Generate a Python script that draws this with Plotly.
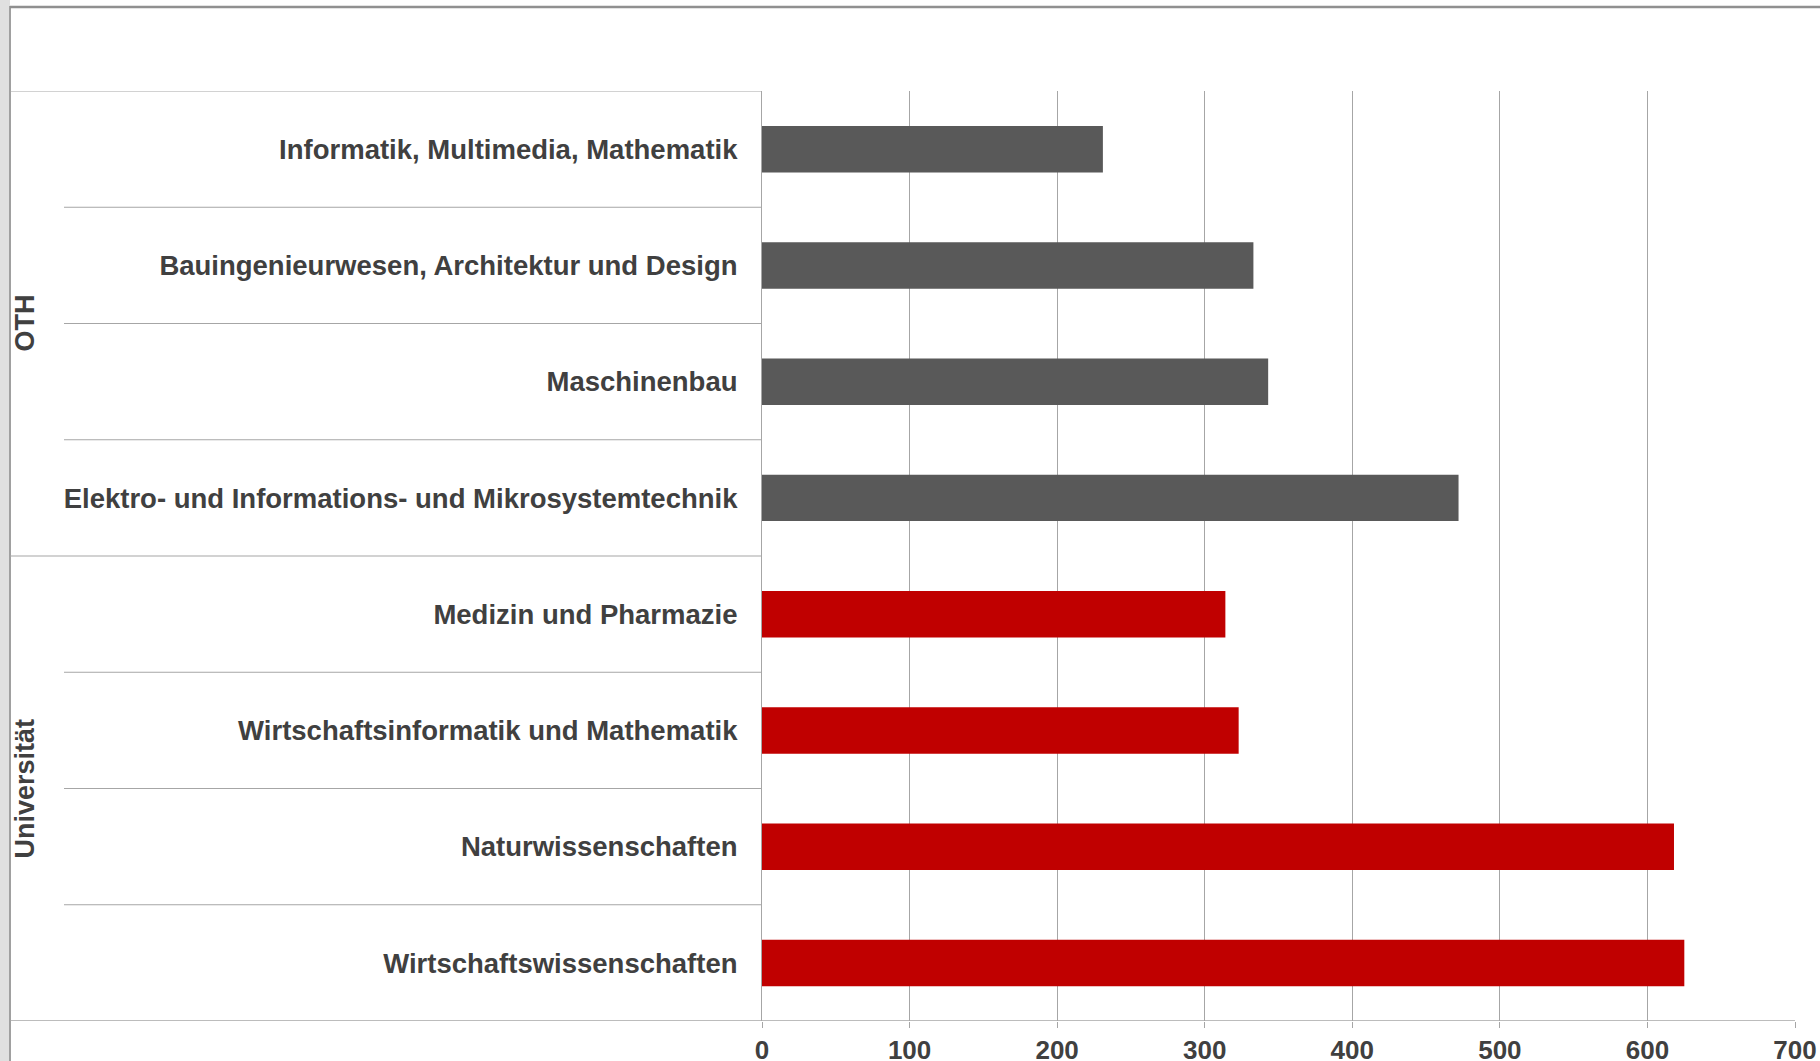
import plotly.graph_objects as go

categories = [
    "Informatik, Multimedia, Mathematik",
    "Bauingenieurwesen, Architektur und Design",
    "Maschinenbau",
    "Elektro- und Informations- und Mikrosystemtechnik",
    "Medizin und Pharmazie",
    "Wirtschaftsinformatik und Mathematik",
    "Naturwissenschaften",
    "Wirtschaftswissenschaften",
]
groups = ["OTH", "OTH", "OTH", "OTH", "Universität", "Universität", "Universität", "Universität"]
values = [231, 333, 343, 472, 314, 323, 618, 625]
group_names = ["OTH", "Universität"]
group_colors = {"OTH": "#595959", "Universität": "#C00000"}
x_ticks = [0, 100, 200, 300, 400, 500, 600, 700]

W, H = 1820, 1061
L, R, T, B = 762, 1795, 91, 1021
plot_w = R - L
plot_h = B - T

def px_x(px):
    return (px - L) / plot_w

def px_y(py):
    return (B - py) / plot_h

FONT = "Liberation Sans, Arial, sans-serif"
TXT = "#404040"
GRID = "#a6a6a6"

fig = go.Figure()
fig.add_trace(go.Bar(
    x=values,
    y=categories,
    orientation="h",
    width=0.4,
    marker=dict(color=[group_colors[g] for g in groups], line=dict(width=0)),
    showlegend=False,
    hoverinfo="x+y",
))

shapes = []
# left gray strip and frame
shapes.append(dict(type="rect", xref="paper", yref="paper",
                   x0=px_x(0), x1=px_x(10), y0=px_y(H), y1=px_y(0),
                   fillcolor="#e0e0e0", line=dict(width=0), layer="below"))
shapes.append(dict(type="line", xref="paper", yref="paper",
                   x0=px_x(10), x1=px_x(10), y0=px_y(H), y1=px_y(6),
                   line=dict(color="#a0a0a0", width=2)))
shapes.append(dict(type="line", xref="paper", yref="paper",
                   x0=px_x(10), x1=px_x(W), y0=px_y(7), y1=px_y(7),
                   line=dict(color="#909090", width=2.5)))

# category dividers within groups, group boundaries across the label area
n = len(categories)
for i in range(n - 1):
    start = 64 if groups[i] == groups[i + 1] else 10
    shapes.append(dict(type="line", xref="paper", yref="y",
                       x0=px_x(start), x1=0, y0=i + 0.5, y1=i + 0.5,
                       line=dict(color=GRID, width=1.2)))
shapes.append(dict(type="line", xref="paper", yref="y",
                   x0=px_x(10), x1=0, y0=-0.5, y1=-0.5,
                   line=dict(color=GRID, width=1.2)))
shapes.append(dict(type="line", xref="paper", yref="y",
                   x0=px_x(10), x1=1, y0=n - 0.5, y1=n - 0.5,
                   line=dict(color=GRID, width=1.5)))

annotations = []
for g in group_names:
    idx = [i for i, gg in enumerate(groups) if gg == g]
    center = (idx[0] + idx[-1]) / 2
    annotations.append(dict(
        text=g, xref="paper", yref="y", x=px_x(24), y=center,
        textangle=-90, showarrow=False, xanchor="center", yanchor="middle",
        font=dict(family=FONT, size=27, color=TXT, weight="bold"),
    ))

fig.update_layout(
    width=W, height=H,
    margin=dict(l=L, r=W - R, t=T, b=H - B, autoexpand=False),
    paper_bgcolor="white", plot_bgcolor="white",
    shapes=shapes, annotations=annotations,
    bargap=0.6,
    xaxis=dict(
        range=[0, 700], tickvals=x_ticks, ticktext=[str(v) for v in x_ticks],
        showgrid=True, gridcolor=GRID, gridwidth=1,
        zeroline=False, showline=False, automargin=False,
        ticks="outside", ticklen=6, tickcolor=GRID, tickwidth=1,
        tickfont=dict(family=FONT, size=26, color=TXT, weight="bold"),
        fixedrange=True,
    ),
    yaxis=dict(
        categoryorder="array", categoryarray=categories,
        range=[n - 0.5, -0.5], automargin=False,
        showgrid=False, zeroline=False,
        showline=True, linecolor=GRID, linewidth=1,
        ticks="", ticklabelstandoff=18,
        tickfont=dict(family=FONT, size=27.5, color=TXT, weight="bold"),
        fixedrange=True,
    ),
)

fig.write_html(
    "out.html",
    config={"displayModeBar": False},
    post_script="document.body.style.margin='0px';document.body.style.overflow='hidden';",
)
